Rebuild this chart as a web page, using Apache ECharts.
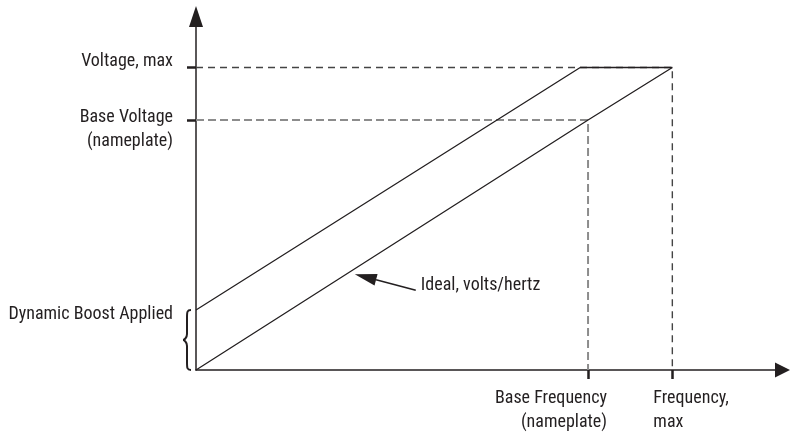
<!DOCTYPE html>
<html>
<head>
<meta charset="utf-8">
<script src="https://cdn.jsdelivr.net/npm/echarts@6/dist/echarts.min.js"></script>
<style>
html,body{margin:0;padding:0;background:#fff;}
#chart{width:791px;height:434px;}
</style>
</head>
<body>
<div id="chart"></div>
<script>
// ---- data ----
const baseFreq = 1.0;
const maxFreq = 1.215;
const baseVolt = 1.0;
const maxVolt = 1.21;
const boostVolt = 0.24;
const xTickValues = [baseFreq, maxFreq];
const xTickLabels = ['Base Frequency\n(nameplate)', 'Frequency,\nmax'];
const yTickValues = [baseVolt, maxVolt];
const yTickLabels = ['Base Voltage\n(nameplate)', 'Voltage, max'];
const idealFreq = [0, 1.0, 1.215];
const idealVolt = [0, 1.0, 1.21];
const boostFreq = [0, 0.98, 1.215];
const boostVolts = [0.24, 1.21, 1.21];
const boostLabel = 'Dynamic Boost Applied';
const idealLabel = 'Ideal, volts/hertz';
const idealLabelFreq = [0.405];
const xMax = 1.496;
const yMax = 1.414;

// ---- styles ----
const ink = '#231f20';
const FONT = "'Roboto Condensed', 'DejaVu Sans Condensed', sans-serif";
const textBase = {color: ink, fontSize: 18, fontFamily: FONT, lineHeight: 24, opacity: 1};

const zip = (a, b) => a.map((v, i) => [v, b[i]]);

const chart = echarts.init(document.getElementById('chart'), null, {renderer: 'canvas'});

const labelItems = [
  {value: [0, yTickValues[0]], name: yTickLabels[0], label: {position: 'left', distance: 23, offset: [0, 9]}},
  {value: [0, yTickValues[1]], name: yTickLabels[1], label: {position: 'left', distance: 23, offset: [0, -6]}},
  {value: [xTickValues[0], 0], name: xTickLabels[0], label: {position: 'left', distance: 0, offset: [19, 40]}},
  {value: [xTickValues[1], 0], name: xTickLabels[1], label: {position: 'right', distance: 0, offset: [-19, 40]}},
  {value: [0, boostVolt], name: boostLabel, label: {position: 'left', distance: 23, offset: [0, 4]}}
];

const idealSlope = idealVolt[2] / idealFreq[2];

const option = {
  animation: false,
  grid: {left: 196, right: 8.5, top: 16.5, bottom: 64},
  xAxis: {
    type: 'value', min: 0, max: xMax,
    axisLine: {show: true, onZero: false, symbol: ['none', 'triangle'], symbolSize: [15, 15],
      lineStyle: {color: ink, width: 1.5}},
    axisTick: {show: true, customValues: xTickValues, length: 9, lineStyle: {color: ink, width: 2.5}},
    axisLabel: {show: false},
    splitLine: {show: false}
  },
  yAxis: {
    type: 'value', min: 0, max: yMax,
    axisLine: {show: true, onZero: false, symbol: ['none', 'triangle'], symbolSize: [14, 21],
      lineStyle: {color: ink, width: 1.5}},
    axisTick: {show: true, customValues: yTickValues, length: 9, lineStyle: {color: ink, width: 2.5}},
    axisLabel: {show: false},
    splitLine: {show: false}
  },
  series: [
    {
      type: 'line', symbol: 'none', silent: true,
      data: [[0, baseVolt], [baseFreq, baseVolt], [baseFreq, 0]],
      lineStyle: {color: '#8c8c8c', width: 2, type: [8, 4]}
    },
    {
      type: 'line', symbol: 'none', silent: true,
      data: [[0, maxVolt], [maxFreq, maxVolt], [maxFreq, 0]],
      lineStyle: {color: '#444', width: 1.4, type: [7, 5]}
    },
    {
      type: 'line', symbol: 'none', silent: true,
      data: zip(idealFreq, idealVolt),
      lineStyle: {color: ink, width: 1.3}
    },
    {
      type: 'line', symbol: 'none', silent: true,
      data: zip(boostFreq, boostVolts),
      lineStyle: {color: ink, width: 1.3}
    },
    {
      type: 'scatter', silent: true, symbolSize: 0,
      itemStyle: {color: ink},
      label: Object.assign({show: true, formatter: p => p.name}, textBase),
      data: labelItems
    },
    {
      type: 'custom', silent: true, clip: false,
      data: [[0, boostVolt]],
      renderItem: function (params, api) {
        const top = api.coord([api.value(0), api.value(1)]);
        const bot = api.coord([api.value(0), 0]);
        const ex = top[0] - 5, sx = top[0] - 9, cx = top[0] - 13;
        const t = top[1], b = bot[1], m = (t + b) / 2;
        const d = `M${ex},${t} C${sx},${t} ${sx},${t+2} ${sx},${t+8} L${sx},${m-6} C${sx},${m-2} ${cx+1},${m} ${cx},${m} ` +
                  `C${cx+1},${m} ${sx},${m+2} ${sx},${m+6} L${sx},${b-8} C${sx},${b-2} ${sx},${b} ${ex},${b}`;
        return {type: 'path', shape: {pathData: d}, style: {stroke: ink, lineWidth: 2, fill: null}};
      }
    },
    {
      type: 'custom', silent: true, clip: false,
      data: idealLabelFreq.map(f => [f, f * idealSlope]),
      renderItem: function (params, api) {
        const p = api.coord([api.value(0), api.value(1)]);
        const T = [p[0], p[1] + 5];
        const tail = [T[0] + 61, T[1] + 16];
        const len = Math.hypot(tail[0] - T[0], tail[1] - T[1]);
        const u = [(tail[0] - T[0]) / len, (tail[1] - T[1]) / len];
        const n = [-u[1], u[0]];
        const hl = 22, hw = 6;
        const base = [T[0] + u[0] * hl, T[1] + u[1] * hl];
        return {
          type: 'group',
          children: [
            {type: 'line', shape: {x1: base[0], y1: base[1], x2: tail[0], y2: tail[1]}, style: {stroke: ink, lineWidth: 1.5}},
            {type: 'polygon', shape: {points: [T, [base[0] + n[0] * hw, base[1] + n[1] * hw], [base[0] - n[0] * hw, base[1] - n[1] * hw]]}, style: {fill: ink}},
            {type: 'text', x: tail[0] + 5, y: tail[1] - 5,
              style: {text: idealLabel, fill: ink, fontSize: 18, fontFamily: FONT, align: 'left', verticalAlign: 'middle'}}
          ]
        };
      }
    }
  ]
};
chart.setOption(option);
</script>
</body>
</html>
